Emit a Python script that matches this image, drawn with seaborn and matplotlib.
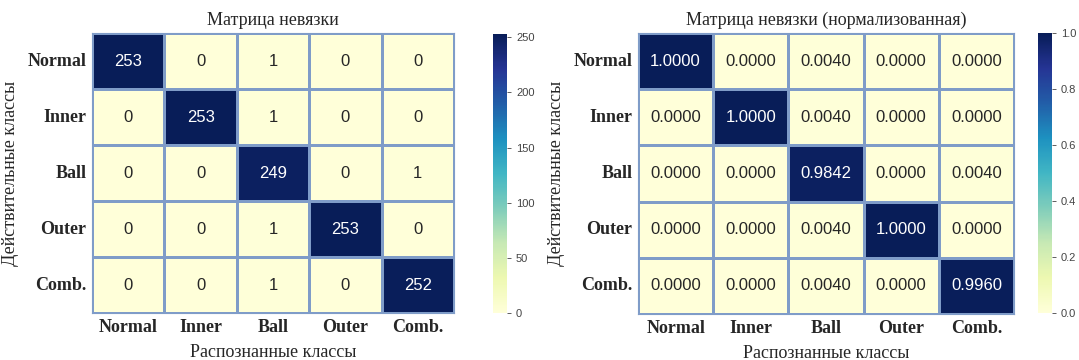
import numpy as np
import matplotlib
matplotlib.use("Agg")
import matplotlib.pyplot as plt
import seaborn as sns

# классы и значения матриц
classes = ["Normal", "Inner", "Ball", "Outer", "Comb."]
counts = np.array([
    [253, 0, 1, 0, 0],
    [0, 253, 1, 0, 0],
    [0, 0, 249, 0, 1],
    [0, 0, 1, 253, 0],
    [0, 0, 1, 0, 252],
])
normed = np.array([
    [1.0000, 0.0000, 0.0040, 0.0000, 0.0000],
    [0.0000, 1.0000, 0.0040, 0.0000, 0.0000],
    [0.0000, 0.0000, 0.9842, 0.0000, 0.0040],
    [0.0000, 0.0000, 0.0040, 1.0000, 0.0000],
    [0.0000, 0.0000, 0.0040, 0.0000, 0.9960],
])

sns.set_theme(style="white")
plt.rcParams['font.family'] = ['Liberation Serif', 'DejaVu Serif']

W, H = 1079, 360
fig = plt.figure(figsize=(W / 100, H / 100), dpi=100)


def box(x0, y0, x1, y1):
    return [x0 / W, 1 - y1 / H, (x1 - x0) / W, (y1 - y0) / H]


line_col = "#7f9cc8"
panels = [
    (counts, "d", "Матрица невязки", box(92, 33, 454, 313), box(493, 34, 507, 313), [0, 50, 100, 150, 200, 250]),
    (normed, ".4f", "Матрица невязки (нормализованная)", box(638, 33, 1014, 314), box(1038, 33, 1052, 313), [0.0, 0.2, 0.4, 0.6, 0.8, 1.0]),
]

for data, fmt, title, axpos, cpos, cticks in panels:
    ax = fig.add_axes(axpos)
    cax = fig.add_axes(cpos)
    sns.heatmap(data, annot=True, fmt=fmt, cmap="YlGnBu", ax=ax, cbar_ax=cax,
                linewidths=0.8, linecolor=line_col,
                xticklabels=classes, yticklabels=classes,
                annot_kws={"fontsize": 12, "family": "Liberation Sans"})
    for s in ax.spines.values():
        s.set_visible(True)
        s.set_color(line_col)
        s.set_linewidth(0.8)
    ax.set_title(title, fontsize=13, pad=6)
    ax.set_xlabel("Распознанные классы", fontsize=13, labelpad=6)
    ax.set_ylabel("Действительные классы", fontsize=13, labelpad=6)
    ax.tick_params(axis="both", length=0, pad=4)
    for lab in ax.get_xticklabels():
        lab.set_fontweight("bold")
        lab.set_fontsize(13)
        lab.set_rotation(0)
    for lab in ax.get_yticklabels():
        lab.set_fontweight("bold")
        lab.set_fontsize(13)
        lab.set_rotation(0)
    cax.set_yticks(cticks)
    cax.tick_params(labelsize=8, length=3, width=0.6, colors="#444444")
    for lab in cax.get_yticklabels():
        lab.set_family("Liberation Sans")
    for s in cax.spines.values():
        s.set_visible(False)

fig.savefig("out.png", dpi=100)
